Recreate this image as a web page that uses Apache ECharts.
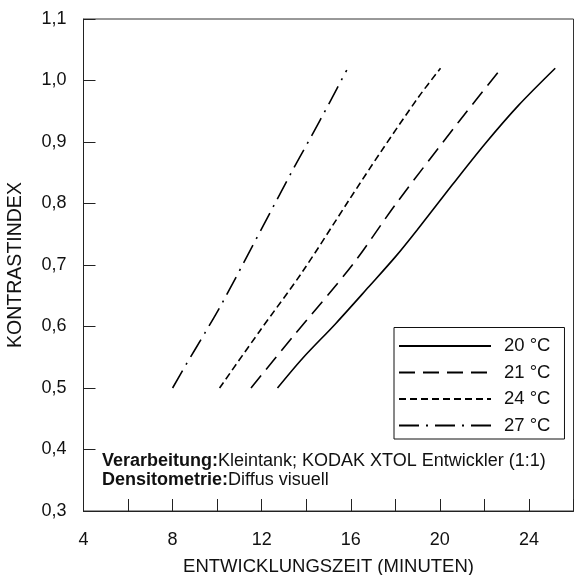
<!DOCTYPE html>
<html>
<head>
<meta charset="utf-8">
<script src="https://cdn.jsdelivr.net/npm/echarts@6/dist/echarts.min.js"></script>
<style>
  html, body { margin: 0; padding: 0; background: #fff; }
  #chart { width: 575px; height: 575px; }
</style>
</head>
<body>
<div id="chart"></div>
<script>
// Development time (minutes) vs. contrast index, one curve per temperature
const temperatures = ['20 °C', '21 °C', '24 °C', '27 °C'];

const time20 = [12.71, 13.83, 15.33, 16.82, 18.02, 18.98, 20.55, 22.05, 23.54, 25.18];
const contrast20 = [0.500, 0.548, 0.605, 0.665, 0.714, 0.757, 0.830, 0.898, 0.960, 1.020];

const time21 = [11.52, 13.39, 16.07, 18.02, 20.85, 22.72];
const contrast21 = [0.500, 0.583, 0.700, 0.799, 0.933, 1.018];

const time24 = [10.11, 11.90, 13.83, 15.93, 17.35, 19.06, 20.03];
const contrast24 = [0.500, 0.592, 0.689, 0.806, 0.884, 0.974, 1.020];

const time27 = [8.00, 8.61, 9.46, 10.30, 13.43, 14.24, 15.03, 15.82];
const contrast27 = [0.500, 0.5385, 0.590, 0.643, 0.857, 0.910, 0.963, 1.017];

const xTickLabels = [4, 8, 12, 16, 20, 24];
const yTickLabels = ['0,3', '0,4', '0,5', '0,6', '0,7', '0,8', '0,9', '1,0', '1,1'];

const FONT = '"Liberation Sans", Arial, Helvetica, sans-serif';
const INK = '#111';

function pairs(xs, ys) {
  return xs.map((x, i) => [x, ys[i]]);
}

const curves = [
  { name: temperatures[0], data: pairs(time20, contrast20), dash: 'solid' },
  { name: temperatures[1], data: pairs(time21, contrast21), dash: [16, 8] },
  { name: temperatures[2], data: pairs(time24, contrast24), dash: [7, 4] },
  { name: temperatures[3], data: pairs(time27, contrast27), dash: [20, 7, 2, 7] }
];

const chart = echarts.init(document.getElementById('chart'), null, { renderer: 'canvas' });

chart.setOption({
  animation: false,
  backgroundColor: '#fff',
  textStyle: { fontFamily: FONT },
  grid: {
    left: 83.5, right: 1.5, top: 19, bottom: 64,
    outerBoundsMode: 'none',
    containLabel: false,
    show: true, borderColor: '#333', borderWidth: 1
  },
  xAxis: {
    type: 'value',
    min: 4, max: 26, interval: 2,
    name: 'ENTWICKLUNGSZEIT (MINUTEN)',
    nameLocation: 'middle',
    nameGap: 46,
    nameTextStyle: { fontSize: 18.5, color: INK, fontFamily: FONT },
    axisLine: { show: true, lineStyle: { color: '#222', width: 1 } },
    axisTick: { show: true, inside: true, length: 12, lineStyle: { color: '#222', width: 1 } },
    axisLabel: {
      fontSize: 18, color: INK, fontFamily: FONT, margin: 20,
      formatter: v => (xTickLabels.indexOf(Math.round(v)) >= 0 ? String(Math.round(v)) : '')
    },
    splitLine: { show: false }
  },
  yAxis: {
    type: 'value',
    min: 0.3, max: 1.1, interval: 0.1,
    name: 'KONTRASTINDEX',
    nameLocation: 'middle',
    nameGap: 58,
    nameTextStyle: { fontSize: 19.5, color: INK, fontFamily: FONT },
    axisLine: { show: true, lineStyle: { color: '#222', width: 1 } },
    axisTick: { show: true, inside: true, length: 12, lineStyle: { color: '#222', width: 1 } },
    axisLabel: {
      fontSize: 18, color: INK, fontFamily: FONT, margin: 17,
      formatter: v => yTickLabels[Math.round((v - 0.3) * 10)] || ''
    },
    splitLine: { show: false }
  },
  legend: {
    orient: 'vertical',
    left: 394, top: 327.5,
    itemWidth: 92, itemHeight: 18, itemGap: 7.5,
    padding: [9, 14, 4, 4],
    borderColor: '#111', borderWidth: 1,
    backgroundColor: '#fff',
    itemStyle: { color: 'transparent', borderWidth: 0, opacity: 0 },
    textStyle: { fontSize: 18.5, color: INK, fontFamily: FONT, padding: [0, 0, 0, 8] },
    data: temperatures
  },
  graphic: [{
    type: 'text',
    left: 102, top: 452,
    style: {
      text: '{b|Verarbeitung:}{n|Kleintank; KODAK XTOL Entwickler (1:1)}\n{b|Densitometrie:}{n|Diffus visuell}',
      rich: {
        b: { fontWeight: 'bold', fontSize: 18, fontFamily: FONT, fill: INK, lineHeight: 19.5 },
        n: { fontSize: 18, fontFamily: FONT, fill: INK, lineHeight: 19.5 }
      }
    }
  }],
  series: curves.map(c => ({
    name: c.name,
    type: 'line',
    data: c.data,
    smooth: 0.3,
    symbol: 'none',
    lineStyle: { color: '#000', width: 1.6, type: c.dash },
    itemStyle: { color: '#000' }
  }))
});
</script>
</body>
</html>
